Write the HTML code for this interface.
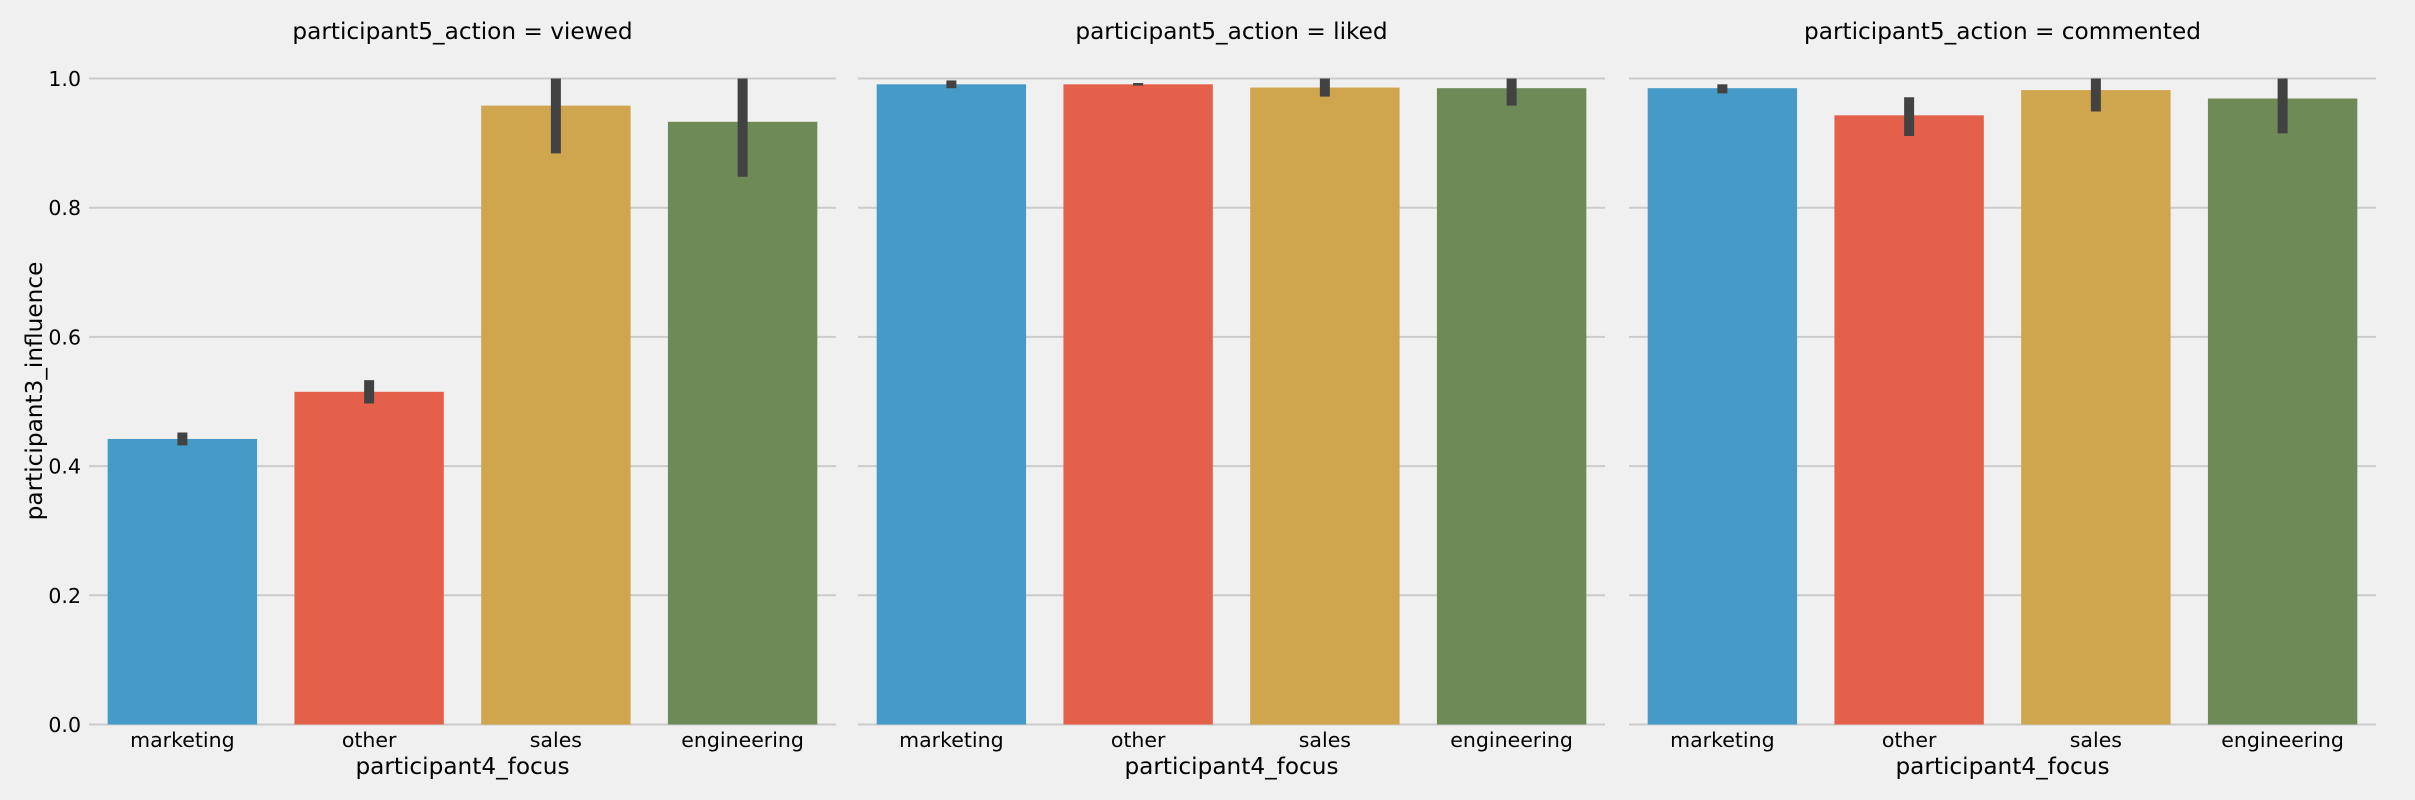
<!DOCTYPE html>
<html><head><meta charset="utf-8"><style>
html,body{margin:0;padding:0;background:#f0f0f0;}
svg{display:block;font-family:"DejaVu Sans","Liberation Sans",sans-serif;}
</style></head><body>
<svg id="chart" width="2415" height="800" viewBox="0 0 2415 800" xmlns="http://www.w3.org/2000/svg">
<rect width="2415" height="800" fill="#f0f0f0"/>
</svg>
<script>
const panels = ["viewed", "liked", "commented"];
const categories = ["marketing", "other", "sales", "engineering"];
const viewedValues = [0.442, 0.515, 0.958, 0.933];
const viewedLow = [0.432, 0.497, 0.884, 0.848];
const viewedHigh = [0.452, 0.533, 1.0, 1.0];
const likedValues = [0.991, 0.991, 0.986, 0.985];
const likedLow = [0.985, 0.989, 0.972, 0.958];
const likedHigh = [0.997, 0.993, 1.0, 1.0];
const commentedValues = [0.985, 0.943, 0.982, 0.969];
const commentedLow = [0.977, 0.911, 0.949, 0.915];
const commentedHigh = [0.991, 0.971, 1.0, 1.0];
const yTicks = [0.0, 0.2, 0.4, 0.6, 0.8, 1.0];
const yTickLabels = ["0.0", "0.2", "0.4", "0.6", "0.8", "1.0"];

const values = [viewedValues, likedValues, commentedValues];
const lows = [viewedLow, likedLow, commentedLow];
const highs = [viewedHigh, likedHigh, commentedHigh];
const colors = ["#459ac8", "#e5604a", "#cfa54e", "#6e8a57"];
const NS = "http://www.w3.org/2000/svg";
const svg = document.getElementById("chart");
const panelLeft = [89, 858, 1629];
const panelWidth = 747;
const yTop = 78.5, yBottom = 724.5;
function yScale(v) { return yBottom - (v / 1.0) * (yBottom - yTop); }
function xBand(p, i) { return panelLeft[p] + panelWidth / categories.length * i; }
function el(tag, attrs, parent) {
  const e = document.createElementNS(NS, tag);
  for (const k in attrs) e.setAttribute(k, attrs[k]);
  (parent || svg).appendChild(e);
  return e;
}
panels.forEach((pname, p) => {
  const g = el("g", {});
  
  
  yTicks.forEach((t, j) => {
    const ln = el("line", {x1: panelLeft[p], x2: panelLeft[p] + panelWidth, y1: yScale(t), y2: yScale(t), stroke: "#cbcbcb", "stroke-width": 2}, g);
    
    
    if (p === 0) {
      const tx = el("text", {x: 81, y: yScale(t) + 7.5, "text-anchor": "end", "font-size": 20.5, fill: "#000"}, g);
      tx.textContent = yTickLabels[j];
      
      
    }
  });
  const bw = panelWidth / categories.length;
  categories.forEach((c, i) => {
    const x0 = xBand(p, i) + bw * 0.1;
    const v = values[p][i];
    const r = el("rect", {x: x0, y: yScale(v), width: bw * 0.8, height: yScale(0) - yScale(v), fill: colors[i]}, g);
    
    
    const cx = xBand(p, i) + bw / 2;
    const eb = el("line", {x1: cx, x2: cx, y1: yScale(highs[p][i]), y2: yScale(lows[p][i]), stroke: "#424242", "stroke-width": 10}, g);
    
    
    const tl = el("text", {x: cx, y: 747, "text-anchor": "middle", "font-size": 20.5, fill: "#000"}, g);
    tl.textContent = c;
    
    
  });
  const title = el("text", {x: panelLeft[p] + panelWidth / 2, y: 39, "text-anchor": "middle", "font-size": 23.2, fill: "#000"}, g);
  title.textContent = "participant5_action = " + pname;
  
  
  const xl = el("text", {x: panelLeft[p] + panelWidth / 2, y: 774, "text-anchor": "middle", "font-size": 23.2, fill: "#000"}, g);
  xl.textContent = "participant4_focus";
  
  
});
const yl = el("text", {x: 0, y: 0, "text-anchor": "middle", "font-size": 23.2, fill: "#000", transform: "translate(42,391) rotate(-90)"});
yl.textContent = "participant3_influence";


</script>
</body></html>
